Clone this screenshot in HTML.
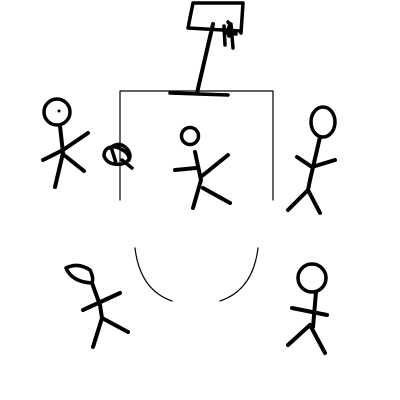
<!DOCTYPE html>
<html><head><meta charset="utf-8"><style>
html,body{margin:0;padding:0;background:#fff;width:400px;height:400px;overflow:hidden}
svg{display:block}
</style></head><body>
<svg width="400" height="400" viewBox="0 0 400 400">
<g fill="none" stroke="#000" stroke-linecap="round" stroke-linejoin="round">
  <g stroke-width="1.2">
    <path d="M120 200 L120 91 L273 91 L273 200"/>
    <path d="M135 248 Q140 290 172 301"/>
    <path d="M258 248 Q253 290 220 301"/>
  </g>
  <g stroke-width="4">
    <path d="M193 3 L243 3 L241 33 M193 3 L188 28 L240 31" stroke-width="3.5"/>
    <path d="M224 26 L225 45 M228 22 Q233 28 229 36 Q226 30 231 24 L233 48 M227 33 L236 34" stroke-width="3.5"/>
    <path d="M213 24 L197 93"/>
    <path d="M170 93 L228 95" stroke-width="3.5"/>
  </g>
  <g stroke-width="4">
    <circle cx="57" cy="112" r="13" stroke-width="3.5"/>
    <circle cx="59" cy="111" r="1.5" fill="#000" stroke="none"/>
    <path d="M60 126 L63 153 L55 187"/>
    <path d="M43 160 L63 150 L88 133"/>
    <path d="M64 155 L84 171"/>
  </g>
  <g stroke-width="3.5">
    <path d="M110 148 Q120 140 128 150 Q134 160 122 164 Q108 166 104 156 Q104 146 116 147 Q130 152 129 160 M112 150 L116 163 M122 160 L132 168"/>
  </g>
  <g stroke-width="4">
    <circle cx="190" cy="136" r="8.5" stroke-width="3.5"/>
    <path d="M195 152 L201 180 L193 208"/>
    <path d="M175 170 L196 168"/>
    <path d="M202 176 L228 155"/>
    <path d="M203 188 L230 203"/>
  </g>
  <g stroke-width="4">
    <ellipse cx="323" cy="122" rx="12" ry="15" stroke-width="3.5"/>
    <path d="M320 137 L310 180 L308 190"/>
    <path d="M297 157 L312 167 L335 160"/>
    <path d="M308 190 L288 210 M308 190 L320 213"/>
  </g>
  <g stroke-width="4">
    <path d="M66 268 Q78 262 90 270 Q94 278 92 283 Q72 282 66 268 Z" stroke-width="3.5"/>
    <path d="M92 283 L100 305 L102 318 L93 347"/>
    <path d="M83 310 L120 293"/>
    <path d="M102 318 L128 332"/>
  </g>
  <g stroke-width="4">
    <ellipse cx="312" cy="278" rx="14" ry="14" stroke-width="3.5"/>
    <path d="M316 292 L313 327"/>
    <path d="M292 308 L327 315"/>
    <path d="M310 325 L288 345 M310 325 L325 353"/>
  </g>
</g>
</svg>
</body></html>
